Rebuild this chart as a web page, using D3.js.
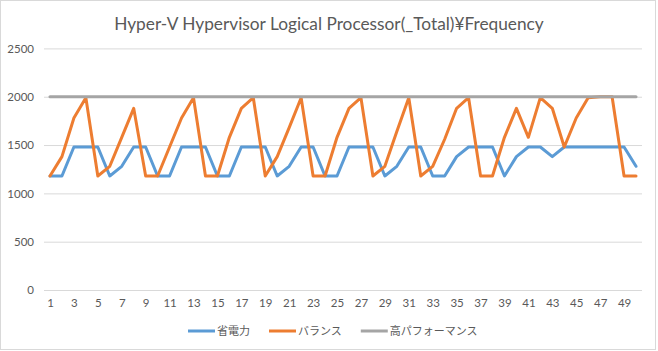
<!DOCTYPE html>
<html lang="ja">
<head>
<meta charset="UTF-8">
<title>Hyper-V Hypervisor Logical Processor(_Total)¥Frequency</title>
<script src="https://d3js.org/d3.v7.min.js"></script>
<style>
    body { margin: 0; background: #fff; }
    svg { display: block; }
</style>
</head>
<body>
<div id="chart"></div>
<script>
    // data (MHz)
    const categories = d3.range(1, 51);
    const powerSaver = [
        1180, 1180, 1480, 1480, 1480, 1180, 1280, 1480, 1480, 1180,
        1180, 1480, 1480, 1480, 1180, 1180, 1480, 1480, 1480, 1180,
        1280, 1480, 1480, 1180, 1180, 1480, 1480, 1480, 1180, 1280,
        1480, 1480, 1180, 1180, 1380, 1480, 1480, 1480, 1180, 1380,
        1480, 1480, 1380, 1480, 1480, 1480, 1480, 1480, 1480, 1280
    ];
    const balanced = [
        1180, 1380, 1780, 1990, 1180, 1280, 1580, 1880, 1180, 1180,
        1480, 1780, 1990, 1180, 1180, 1580, 1880, 1990, 1180, 1380,
        1680, 1990, 1180, 1180, 1580, 1880, 1990, 1180, 1280, 1640,
        1990, 1180, 1280, 1560, 1880, 1990, 1180, 1180, 1580, 1880,
        1580, 1990, 1880, 1480, 1780, 1990, 2000, 2000, 1180, 1180
    ];
    const highPerf = [
        2000, 2000, 2000, 2000, 2000, 2000, 2000, 2000, 2000, 2000,
        2000, 2000, 2000, 2000, 2000, 2000, 2000, 2000, 2000, 2000,
        2000, 2000, 2000, 2000, 2000, 2000, 2000, 2000, 2000, 2000,
        2000, 2000, 2000, 2000, 2000, 2000, 2000, 2000, 2000, 2000,
        2000, 2000, 2000, 2000, 2000, 2000, 2000, 2000, 2000, 2000
    ];
    const yTicks = [0, 500, 1000, 1500, 2000, 2500];
    const xTickLabels = categories.filter(d => d % 2 === 1);
    const seriesNames = ["省電力", "バランス", "高パフォーマンス"];
    const seriesColors = ["#5B9BD5", "#ED7D31", "#A5A5A5"];

    const width = 658, height = 351;
    const plot = { left: 44, right: 642, top: 48.4, bottom: 290 };
    const latin = "Lato, 'Open Sans', sans-serif";
    const cjk = "'Noto Sans CJK JP', sans-serif";

    const svg = d3.select("#chart").append("svg")
        .attr("width", width)
        .attr("height", height);

    // chart area border
    svg.append("rect")
        .attr("x", 0.5).attr("y", 0.5)
        .attr("width", 655).attr("height", 349)
        .attr("fill", "#fff")
        .attr("stroke", "#d9d9d9");

    const x = d3.scalePoint()
        .domain(categories)
        .range([plot.left, plot.right])
        .padding(0.5);

    const y = d3.scaleLinear()
        .domain([0, 2500])
        .range([plot.bottom, plot.top]);

    // gridlines + y labels
    const yAxis = d3.axisLeft(y)
        .tickValues(yTicks)
        .tickFormat(d3.format("d"))
        .tickSize(-(plot.right - plot.left))
        .tickPadding(10);

    const gy = svg.append("g")
        .attr("transform", `translate(${plot.left},0)`)
        .call(yAxis);
    gy.select(".domain").remove();
    gy.selectAll(".tick line").attr("stroke", "#d9d9d9");
    gy.selectAll(".tick text")
        .attr("fill", "#595959")
        .attr("font-family", latin)
        .attr("font-size", 11.5);

    // x labels (every second category)
    const xAxis = d3.axisBottom(x)
        .tickValues(xTickLabels)
        .tickSize(0)
        .tickPadding(9);

    const gx = svg.append("g")
        .attr("transform", `translate(0,${plot.bottom})`)
        .call(xAxis);
    gx.select(".domain").remove();
    gx.selectAll(".tick text")
        .attr("fill", "#595959")
        .attr("font-family", latin)
        .attr("font-size", 11.5);

    // series lines
    const line = d3.line()
        .x((d, i) => x(categories[i]))
        .y(d => y(d));

    [powerSaver, balanced, highPerf].forEach((values, k) => {
        svg.append("path")
            .datum(values)
            .attr("fill", "none")
            .attr("stroke", seriesColors[k])
            .attr("stroke-width", 3)
            .attr("stroke-linejoin", "round")
            .attr("stroke-linecap", "round")
            .attr("d", line);
    });

    // title, sized to match the reference width
    const title = svg.append("text")
        .attr("x", width / 2)
        .attr("y", 30)
        .attr("text-anchor", "middle")
        .attr("fill", "#595959")
        .attr("font-family", latin)
        .attr("font-size", 18)
        .text("Hyper-V Hypervisor Logical Processor(_Total)¥Frequency");
    const tw = title.node().getComputedTextLength();
    title.attr("font-size", 18 * 430 / tw);

    // legend
    const legend = svg.append("g").attr("transform", "translate(188,331)");
    let lx = 0;
    seriesNames.forEach((name, k) => {
        legend.append("line")
            .attr("x1", lx).attr("x2", lx + 27)
            .attr("y1", 0).attr("y2", 0)
            .attr("stroke", seriesColors[k])
            .attr("stroke-width", 3);
        const t = legend.append("text")
            .attr("x", lx + 29)
            .attr("y", 4)
            .attr("fill", "#595959")
            .attr("font-family", cjk)
            .attr("font-size", 11)
            .text(name);
        lx += 29 + t.node().getComputedTextLength() + 19;
    });
</script>
</body>
</html>
